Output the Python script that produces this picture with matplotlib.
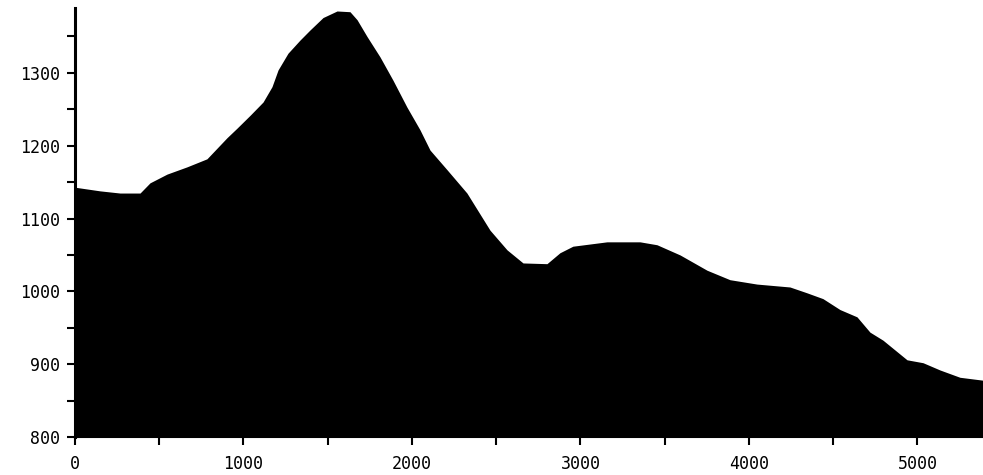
import matplotlib
matplotlib.use("Agg")
import matplotlib.pyplot as plt
from matplotlib.ticker import MultipleLocator

# traced profile of the filled curve
pos = [0, 148, 267, 386, 445, 546, 665, 783, 902, 961, 1040, 1116, 1169, 1205,
       1264, 1335, 1395, 1472, 1555, 1632, 1674, 1733, 1810, 1887, 1970, 2047,
       2107, 2208, 2326, 2463, 2564, 2659, 2801, 2878, 2955, 3157, 3353, 3454,
       3591, 3751, 3887, 4047, 4243, 4344, 4439, 4540, 4641, 4718, 4795, 4938,
       5033, 5134, 5252, 5389]
val = [1143, 1138, 1135, 1135, 1149, 1161, 1171, 1182, 1211, 1224, 1242, 1260,
       1281, 1304, 1327, 1345, 1359, 1376, 1385, 1384, 1373, 1350, 1322, 1290,
       1253, 1222, 1194, 1167, 1135, 1084, 1057, 1039, 1038, 1053, 1062, 1068,
       1068, 1064, 1050, 1029, 1016, 1010, 1006, 998, 990, 975, 965, 944, 933,
       906, 902, 892, 882, 878]

xticks = [0, 1000, 2000, 3000, 4000, 5000]
yticks = [800, 900, 1000, 1100, 1200, 1300]

fig = plt.figure(figsize=(9.83, 4.75), dpi=100)
ax = fig.add_axes([0.0763, 0.08, 0.9237, 0.903])

ax.fill_between(pos, 800, val, color="black", linewidth=0)

ax.set_xlim(0, 5389)
ax.set_ylim(800, 1389)

ax.set_xticks(xticks)
ax.set_xticklabels([str(t) for t in xticks])
ax.set_yticks(yticks)
ax.set_yticklabels([str(t) for t in yticks])
ax.xaxis.set_minor_locator(MultipleLocator(500))
ax.yaxis.set_minor_locator(MultipleLocator(50))

for s in ["top", "right"]:
    ax.spines[s].set_visible(False)
ax.spines["left"].set_linewidth(2.2)
ax.spines["bottom"].set_linewidth(1.5)

ax.tick_params(which="both", direction="out", length=6, width=1.5, colors="black")
ax.tick_params(axis="x", labelsize=12, pad=7)
ax.tick_params(axis="y", labelsize=12, pad=5)
for lab in ax.get_xticklabels() + ax.get_yticklabels():
    lab.set_family("DejaVu Sans Mono")

fig.savefig("out.png", dpi=100, facecolor="white")
